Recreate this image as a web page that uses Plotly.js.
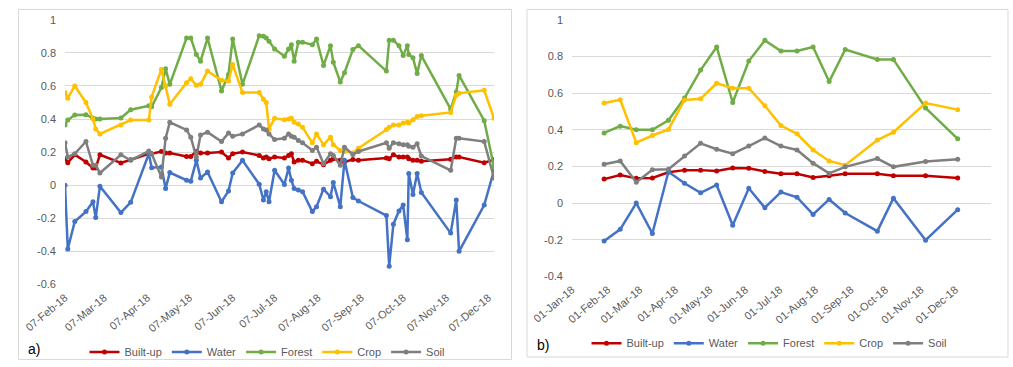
<!DOCTYPE html>
<html><head><meta charset="utf-8">
<script src="https://cdn.plot.ly/plotly-3.0.1.min.js"></script>
<style>html,body{margin:0;padding:0;background:#fff}#chart{width:1013px;height:367px}</style>
</head><body><div id="chart"></div>
<script>
// ---------- Panel a) data ----------
const datesA = ['2018-02-07','2018-02-09','2018-02-14','2018-02-22','2018-02-27','2018-03-01','2018-03-04','2018-03-19','2018-03-26','2018-04-08',
 '2018-04-10','2018-04-17','2018-04-20','2018-04-23','2018-05-05','2018-05-08','2018-05-12','2018-05-15','2018-05-20','2018-05-30',
 '2018-06-04','2018-06-07','2018-06-14','2018-06-26','2018-06-29','2018-07-01','2018-07-03','2018-07-07','2018-07-14','2018-07-17',
 '2018-07-19','2018-07-21','2018-07-24','2018-07-27','2018-08-03','2018-08-06','2018-08-11','2018-08-16','2018-08-18','2018-08-23',
 '2018-08-26','2018-09-01','2018-09-05','2018-09-25','2018-09-27','2018-09-30','2018-10-04','2018-10-07','2018-10-10','2018-10-11',
 '2018-10-14','2018-10-17','2018-10-20','2018-11-10','2018-11-14','2018-11-16','2018-12-04','2018-12-11'];
const builtA = [0.16,0.136,0.184,0.14,0.104,0.104,0.184,0.134,0.154,0.19,
 0.19,0.204,0.194,0.194,0.174,0.174,0.204,0.194,0.194,0.2,
 0.164,0.19,0.2,0.18,0.164,0.17,0.16,0.17,0.164,0.18,
 0.19,0.14,0.15,0.15,0.13,0.144,0.124,0.15,0.16,0.15,
 0.14,0.155,0.15,0.164,0.16,0.184,0.17,0.17,0.17,0.16,
 0.15,0.15,0.144,0.156,0.17,0.17,0.136,0.154];
const waterA = [0,-0.386,-0.22,-0.16,-0.10,-0.196,-0.006,-0.166,-0.104,0.19,
 0.106,0.11,-0.02,0.076,0.03,0.024,0.15,0.044,0.08,-0.1,
 -0.036,0.074,0.15,0.006,-0.09,-0.04,-0.1,0.09,0.004,0.104,
 0.03,-0.02,-0.03,-0.04,-0.16,-0.13,-0.024,-0.07,0.016,-0.13,
 0.15,-0.075,-0.096,-0.184,-0.49,-0.236,-0.156,-0.12,-0.33,0.07,
 -0.056,0.07,-0.044,-0.29,-0.09,-0.4,-0.12,0.09];
const forestA = [0.364,0.394,0.424,0.426,0.405,0.40,0.40,0.406,0.456,0.48,
 0.474,0.59,0.704,0.61,0.89,0.89,0.79,0.75,0.89,0.57,
 0.67,0.884,0.61,0.904,0.9,0.89,0.87,0.824,0.78,0.824,
 0.85,0.75,0.864,0.864,0.85,0.884,0.724,0.844,0.744,0.624,
 0.68,0.82,0.844,0.69,0.876,0.876,0.844,0.784,0.844,0.79,
 0.77,0.676,0.784,0.46,0.564,0.664,0.39,0.11];
const cropA = [0.56,0.526,0.60,0.50,0.40,0.34,0.31,0.364,0.394,0.394,
 0.534,0.70,0.60,0.49,0.62,0.644,0.604,0.61,0.69,0.634,
 0.63,0.73,0.56,0.56,0.52,0.50,0.34,0.404,0.396,0.40,
 0.404,0.38,0.37,0.35,0.256,0.31,0.244,0.29,0.244,0.21,
 0.204,0.195,0.224,0.336,0.35,0.364,0.364,0.376,0.38,0.376,
 0.396,0.416,0.42,0.44,0.544,0.556,0.574,0.404];
const soilA = [0.256,0.17,0.19,0.264,0.12,0.12,0.074,0.184,0.15,0.206,
 0.19,0.05,0.284,0.38,0.334,0.29,0.17,0.304,0.32,0.264,
 0.316,0.296,0.31,0.364,0.34,0.334,0.31,0.276,0.284,0.31,
 0.296,0.29,0.27,0.256,0.21,0.23,0.13,0.19,0.18,0.12,
 0.23,0.186,0.204,0.256,0.224,0.256,0.25,0.244,0.244,0.236,
 0.23,0.25,0.176,0.09,0.284,0.284,0.264,0.044];
const xTicksA = ['2018-02-07','2018-03-07','2018-04-07','2018-05-07','2018-06-07','2018-07-07','2018-08-07','2018-09-07','2018-10-07','2018-11-07','2018-12-07'];
const xRangeA = ['2018-02-07','2018-12-11'];
const yTicksA = [-0.6,-0.4,-0.2,0,0.2,0.4,0.6,0.8,1];
const yTextA = ['-0.6','-0.4','-0.2','0','0.2','0.4','0.6','0.8','1'];

// ---------- Panel b) data ----------
const datesB = ['2018-01-29','2018-02-12','2018-02-26','2018-03-12','2018-03-26','2018-04-09','2018-04-23','2018-05-07','2018-05-21','2018-06-04',
 '2018-06-18','2018-07-02','2018-07-16','2018-07-30','2018-08-13','2018-08-27','2018-09-24','2018-10-08','2018-11-05','2018-12-03'];
const builtB = [0.131,0.153,0.135,0.137,0.168,0.18,0.18,0.175,0.191,0.19,0.173,0.16,0.16,0.14,0.149,0.16,0.16,0.149,0.149,0.137];
const waterB = [-0.207,-0.143,0.0,-0.166,0.171,0.108,0.056,0.099,-0.121,0.081,-0.025,0.06,0.032,-0.062,0.02,-0.054,-0.153,0.027,-0.202,-0.036];
const forestB = [0.383,0.42,0.40,0.40,0.452,0.573,0.726,0.852,0.549,0.775,0.888,0.83,0.83,0.852,0.663,0.838,0.784,0.784,0.519,0.351];
const cropB = [0.546,0.564,0.33,0.369,0.402,0.563,0.569,0.654,0.627,0.627,0.531,0.423,0.378,0.29,0.23,0.207,0.344,0.387,0.546,0.51];
const soilB = [0.212,0.23,0.114,0.182,0.185,0.257,0.326,0.294,0.27,0.311,0.355,0.311,0.29,0.218,0.162,0.198,0.243,0.198,0.227,0.239];
const xTicksB = ['2018-01-01','2018-02-01','2018-03-01','2018-04-01','2018-05-01','2018-06-01','2018-07-01','2018-08-01','2018-09-01','2018-10-01','2018-11-01','2018-12-01'];
const xRangeB = ['2018-01-01','2019-01-01'];
const yTicksB = [-0.4,-0.2,0,0.2,0.4,0.6,0.8,1];
const yTextB = ['-0.4','-0.2','0','0.2','0.4','0.6','0.8','1'];

const seriesNames = ['Built-up','Water','Forest','Crop','Soil'];
const seriesColors = ['#c00000','#4472c4','#70ad47','#ffc000','#7f7f7f'];

// ---------- build ----------
const W = 1013, H = 367;
const px = x => x / W, py = y => 1 - y / H;
const valsA = [builtA, waterA, forestA, cropA, soilA];
const valsB = [builtB, waterB, forestB, cropB, soilB];
const traces = [];
seriesNames.forEach((n, i) => {
  traces.push({type:'scatter', mode:'lines+markers', name:n, x:datesA, y:valsA[i], xaxis:'x', yaxis:'y', legend:'legend',
    line:{color:seriesColors[i], width:2.5}, marker:{color:seriesColors[i], size:5}});
});
seriesNames.forEach((n, i) => {
  traces.push({type:'scatter', mode:'lines+markers', name:n, x:datesB, y:valsB[i], xaxis:'x2', yaxis:'y2', legend:'legend2',
    line:{color:seriesColors[i], width:2.5}, marker:{color:seriesColors[i], size:5}});
});

const tickFont = {family:'Liberation Sans, Arial, sans-serif', size:11, color:'#595959'};
const xCommon = {type:'date', tickformat:'%d-%b-%y', tickangle:-40, showgrid:false, zeroline:false, showline:false, ticks:'', tickfont:tickFont, fixedrange:true, ticklabelstandoff:4};
const yCommon = {showgrid:true, gridcolor:'#d9d9d9', gridwidth:1, zeroline:false, showline:false, ticks:'', tickfont:tickFont, fixedrange:true};

const layout = {
  width:W, height:H, margin:{l:0, r:0, t:0, b:0},
  paper_bgcolor:'#ffffff', plot_bgcolor:'#ffffff', showlegend:true, hovermode:false,
  font:{family:'Liberation Sans, Arial, sans-serif', color:'#595959', size:11},
  xaxis:Object.assign({}, xCommon, {domain:[px(65), px(494)], range:xRangeA, tickvals:xTicksA, anchor:'y'}),
  yaxis:Object.assign({}, yCommon, {domain:[py(286.7), py(20)], range:[-0.6, 1], tickvals:yTicksA, ticktext:yTextA, anchor:'x', ticklabelstandoff:8}),
  xaxis2:Object.assign({}, xCommon, {domain:[px(572), px(991)], range:xRangeB, tickvals:xTicksB, anchor:'y2'}),
  yaxis2:Object.assign({}, yCommon, {domain:[py(278.7), py(20)], range:[-0.4, 1], tickvals:yTicksB, ticktext:yTextB, anchor:'x2', ticklabelstandoff:8}),
  legend:{orientation:'h', x:px(267), xanchor:'center', y:py(355), yanchor:'middle', font:{size:11, color:'#595959'}, bgcolor:'rgba(0,0,0,0)', tracegroupgap:0, itemclick:false},
  legend2:{orientation:'h', x:px(769), xanchor:'center', y:py(346), yanchor:'middle', font:{size:11, color:'#595959'}, bgcolor:'rgba(0,0,0,0)', itemclick:false},
  shapes:[
    {type:'rect', xref:'paper', yref:'paper', x0:px(18.5), x1:px(511.5), y0:py(362.5), y1:py(9.5), line:{color:'#d9d9d9', width:1}, layer:'below'},
    {type:'rect', xref:'paper', yref:'paper', x0:px(527), x1:px(1008), y0:py(360), y1:py(9.5), line:{color:'#d9d9d9', width:1}, layer:'below'}
  ],
  annotations:[
    {text:'a)', xref:'paper', yref:'paper', x:px(26), y:py(352), xanchor:'left', yanchor:'middle', showarrow:false, font:{size:14, color:'#000000', family:'Liberation Sans, Arial, sans-serif'}},
    {text:'b)', xref:'paper', yref:'paper', x:px(535), y:py(348), xanchor:'left', yanchor:'middle', showarrow:false, font:{size:14, color:'#000000', family:'Liberation Sans, Arial, sans-serif'}}
  ]
};
Plotly.newPlot('chart', traces, layout, {displayModeBar:false, staticPlot:true});
</script>
</body></html>
